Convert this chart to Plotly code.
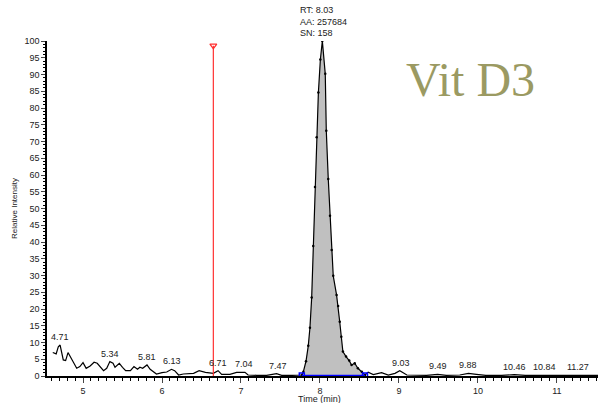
import plotly.graph_objects as go

# Chromatogram trace (time in min, relative intensity %)
time_min = [4.617, 4.66, 4.687, 4.71, 4.75, 4.78, 4.81, 4.86, 4.92, 4.96, 5.0, 5.04, 5.09, 5.14, 5.18,
            5.26, 5.30, 5.34, 5.38, 5.405, 5.46, 5.50, 5.54, 5.60, 5.645, 5.69, 5.72, 5.755, 5.81,
            5.85, 5.93, 6.0, 6.06, 6.12, 6.16, 6.21, 6.27, 6.40, 6.47, 6.55, 6.65, 6.71, 6.755,
            6.86, 6.945, 7.05, 7.09, 7.2, 7.325, 7.45, 7.515, 7.65,
            7.77, 7.79, 7.823, 7.852, 7.873, 7.895, 7.915, 7.937, 7.958, 7.98, 8.005, 8.03,
            8.067, 8.08, 8.105, 8.127, 8.148, 8.168, 8.21, 8.23, 8.25, 8.27, 8.29, 8.33, 8.37,
            8.40, 8.44, 8.48, 8.53, 8.57,
            8.61, 8.675, 8.78, 8.865, 8.95, 9.01, 9.10, 9.22, 9.35, 9.49, 9.60, 9.77, 9.88, 9.98,
            10.1, 10.3, 10.46, 10.6, 10.75, 10.84, 11.0, 11.15, 11.27, 11.4, 11.52]
intensity = [7.0, 6.6, 8.7, 9.25, 4.8, 4.6, 7.0, 4.8, 2.3, 2.8, 4.0, 2.3, 3.0, 4.1, 3.8,
             1.6, 2.3, 4.3, 3.8, 2.6, 3.8, 2.6, 1.6, 1.6, 2.8, 2.0, 2.6, 2.3, 3.3,
             2.0, 0.6, 1.0, 1.2, 2.0, 1.6, 0.3, 0.6, 0.8, 1.6, 1.1, 0.8, 1.6, 0.5,
             0.5, 1.1, 1.1, 0.3, 0.2, 0.2, 0.7, 0.2, 0.2,
             0.3, 1.3, 4.4, 9.0, 14.4, 23.4, 38.8, 56.4, 71.3, 84.6, 94.5, 100.0,
             90.2, 73.2, 58.8, 47.8, 37.6, 29.9, 24.2, 20.9, 16.2, 11.7, 7.3, 5.8, 4.6,
             3.3, 3.8, 2.3, 1.3, 0.3,
             1.1, 0.4, 1.0, 0.3, 0.8, 1.6, 0.3, 0.3, 0.2, 0.5, 0.2, 0.3, 0.8, 0.5,
             0.2, 0.2, 0.4, 0.2, 0.2, 0.4, 0.2, 0.2, 0.4, 0.2, 0.2]

# Integrated peak window
peak_start = 7.77
peak_end = 8.57

# Labelled retention times (label, x, y of label base)
rt_labels = ["4.71", "5.34", "5.81", "6.13", "6.71", "7.04", "7.47", "9.03", "9.49", "9.88", "10.46", "10.84", "11.27"]
rt_x = [4.71, 5.34, 5.81, 6.13, 6.71, 7.04, 7.47, 9.03, 9.49, 9.88, 10.46, 10.84, 11.27]
rt_y = [9.25, 4.3, 3.3, 2.0, 1.6, 1.1, 0.7, 1.6, 0.5, 0.8, 0.4, 0.4, 0.4]

marker_time = 6.65
peak_info = ["RT: 8.03", "AA: 257684", "SN: 158"]
title_text = "Vit D3"

x_ticks = [5, 6, 7, 8, 9, 10, 11]
y_ticks = list(range(0, 101, 5))

pk_x = [t for t in time_min if peak_start <= t <= peak_end]
pk_y = [v for t, v in zip(time_min, intensity) if peak_start <= t <= peak_end]

fig = go.Figure()
fig.add_trace(go.Scatter(x=pk_x, y=pk_y, mode="lines", fill="tozeroy",
                         fillcolor="#c0c0c0", line=dict(color="rgba(0,0,0,0)", width=0),
                         hoverinfo="skip", showlegend=False))
fig.add_trace(go.Scatter(x=time_min, y=intensity, mode="lines",
                         line=dict(color="black", width=1.2), showlegend=False))
fig.add_trace(go.Scatter(x=pk_x, y=pk_y, mode="markers",
                         marker=dict(color="black", size=2.5), showlegend=False))
fig.add_trace(go.Scatter(x=[peak_start, peak_end], y=[0.15, 0.15], mode="lines+markers",
                         line=dict(color="#0000ff", width=1.5),
                         marker=dict(symbol="square-open", size=5, color="#0000ff", line=dict(width=1.5)),
                         showlegend=False))
fig.add_trace(go.Scatter(x=[marker_time, marker_time], y=[0, 98.6], mode="lines",
                         line=dict(color="#ff3030", width=1.2), showlegend=False))
fig.add_trace(go.Scatter(x=[marker_time], y=[98.6], mode="markers",
                         marker=dict(symbol="triangle-down-open", size=6, color="#ff3030",
                                     line=dict(width=1.2)), showlegend=False))

for lab, x, y in zip(rt_labels, rt_x, rt_y):
    fig.add_annotation(x=x, y=y, text=lab, showarrow=False, yanchor="bottom",
                       yshift=1, font=dict(family="Liberation Sans, Arial", size=9, color="#222"))

fig.add_annotation(xref="paper", yref="paper", x=(8.03 - 4.544) / (11.52 - 4.544) - 0.045, y=1.003,
                   xanchor="left", yanchor="bottom", align="left", showarrow=False,
                   text="<br>".join(peak_info),
                   font=dict(family="Liberation Sans, Arial", size=9, color="#222"))

fig.add_annotation(xref="paper", yref="paper", x=0.648, y=0.885, xanchor="left", yanchor="middle",
                   showarrow=False, text=title_text,
                   font=dict(family="Liberation Serif, Times New Roman", size=48, color="#9b9a62"))

# x-axis title placed just under the tick labels (partly cropped like the reference)
fig.add_annotation(xref="x", yref="paper", x=8.0, y=-0.047, xanchor="center", yanchor="top",
                   showarrow=False, text="Time (min)",
                   font=dict(family="Liberation Sans, Arial", size=9, color="#222"))

fig.update_layout(
    width=598, height=403,
    margin=dict(l=47, r=0, t=41, b=27),
    paper_bgcolor="white", plot_bgcolor="white",
    font=dict(family="Liberation Sans, Arial", size=9, color="#222"),
    xaxis=dict(range=[4.544, 11.52], tickvals=x_ticks, ticks="outside", ticklen=5, tickwidth=1,
               showline=True, linecolor="black", linewidth=1.5, showgrid=False, zeroline=False,
               minor=dict(dtick=0.1, tick0=0, ticks="outside", ticklen=3, tickcolor="black"),
               tickfont=dict(size=9)),
    yaxis=dict(range=[0, 100], tickvals=y_ticks, ticks="outside", ticklen=4, tickwidth=1,
               showline=True, linecolor="black", linewidth=1.5, showgrid=False, zeroline=False,
               minor=dict(dtick=1, ticks="outside", ticklen=2.5, tickcolor="black"),
               title=dict(text="Relative Intensity", font=dict(size=8), standoff=6),
               tickfont=dict(size=9)),
)

fig.write_html("out.html")
